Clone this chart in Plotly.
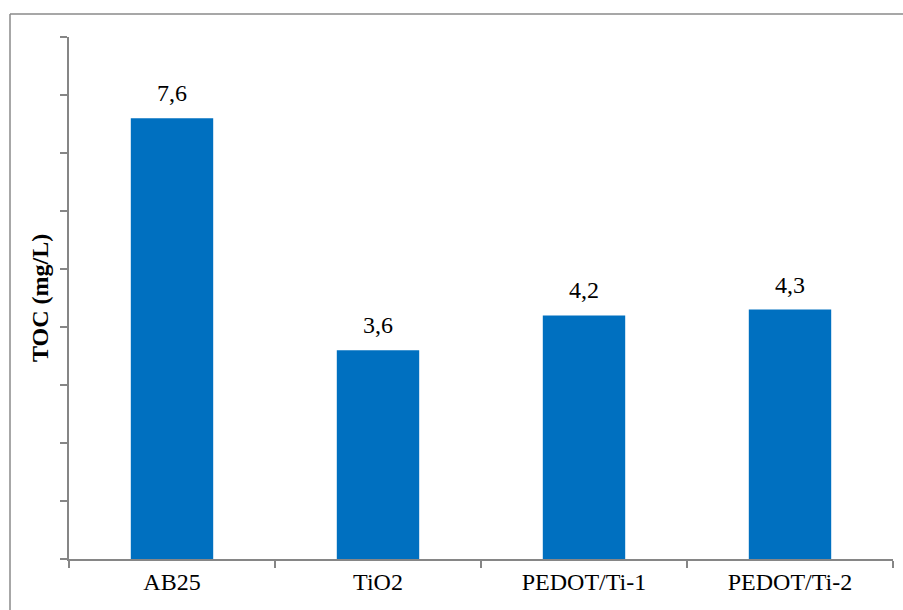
import plotly.graph_objects as go

categories = ["AB25", "TiO2", "PEDOT/Ti-1", "PEDOT/Ti-2"]
toc_values = [7.6, 3.6, 4.2, 4.3]
value_labels = ["7,6", "3,6", "4,2", "4,3"]
y_title = "TOC (mg/L)"

W, H = 903, 610
L, R, T, B = 69, 10, 37, 51
pw, ph = W - L - R, H - T - B

FONT = "Liberation Serif, Times New Roman, serif"
AXIS_COLOR = "#868686"
BAR_COLOR = "#0070C0"
BORDER = "#8a8a8a"

fig = go.Figure()
fig.add_trace(go.Bar(
    x=categories, y=toc_values,
    marker=dict(color=BAR_COLOR, line=dict(width=0)),
    hoverinfo="skip",
))

for c, v, lab in zip(categories, toc_values, value_labels):
    fig.add_annotation(x=c, y=v, text=lab, showarrow=False,
                       xanchor="center", yanchor="bottom", yshift=10,
                       font=dict(family=FONT, size=24, color="#000000"))

fig.add_annotation(xref="paper", yref="paper", x=(40 - L) / pw, y=0.5,
                   text=f"<b>{y_title}</b>", textangle=-90, showarrow=False,
                   xanchor="center", yanchor="middle",
                   font=dict(family=FONT, size=24, color="#000000"))

# outer chart border: only top and left edges are visible in the window
bx0 = (10 - L) / pw
bx1 = (930 - L) / pw
by_top = 1 + (T - 14) / ph
by_bot = -(640 - (H - B)) / ph
fig.add_shape(type="line", xref="paper", yref="paper", x0=bx0, x1=bx1,
              y0=by_top, y1=by_top, line=dict(color=BORDER, width=1.5), layer="below")
fig.add_shape(type="line", xref="paper", yref="paper", x0=bx0, x1=bx0,
              y0=by_top, y1=by_bot, line=dict(color=BORDER, width=1.5), layer="below")

fig.update_layout(
    width=W, height=H,
    margin=dict(l=L, r=R, t=T, b=B, autoexpand=False),
    paper_bgcolor="white", plot_bgcolor="white",
    bargap=0.6, showlegend=False,
    font=dict(family=FONT, size=24, color="#000000"),
    xaxis=dict(type="category", showline=True, linecolor=AXIS_COLOR, linewidth=1.5,
               ticks="outside", tickson="boundaries", ticklen=7, tickcolor=AXIS_COLOR,
               tickwidth=1.5, showgrid=False, zeroline=False,
               tickfont=dict(family=FONT, size=24, color="#000000")),
    yaxis=dict(range=[0, 9], dtick=1, tick0=0, showline=True, linecolor=AXIS_COLOR,
               linewidth=1.5, ticks="outside", ticklen=7, tickcolor=AXIS_COLOR,
               tickwidth=1.5, showticklabels=False, showgrid=False, zeroline=False),
)

fig.write_html(
    "out.html",
    config={"displayModeBar": False},
    post_script="document.body.style.margin='0';"
                "document.documentElement.style.overflow='hidden';"
                "document.body.style.overflow='hidden';",
)
